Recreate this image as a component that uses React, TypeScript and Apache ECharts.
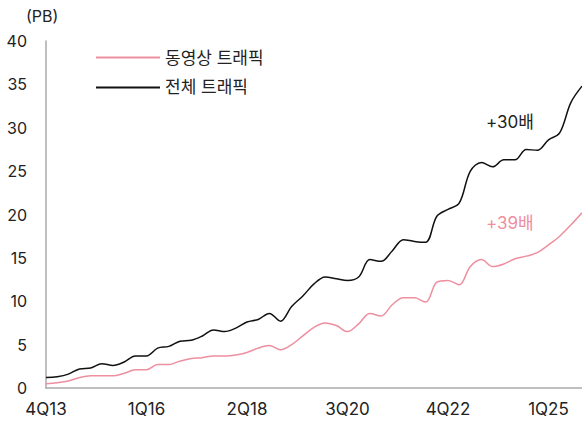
import React, { useEffect, useRef } from "react";
import * as echarts from "echarts";

const quarters: string[] = [];
(() => {
  let y = 13, q = 4;
  for (let i = 0; i < 49; i++) {
    quarters.push(`${q}Q${String(y).padStart(2, "0")}`);
    q++;
    if (q > 4) { q = 1; y++; }
  }
})();

const totalTraffic = [
  1.2, 1.3, 1.6, 2.2, 2.3, 2.8, 2.6, 3.0, 3.7, 3.7,
  4.6, 4.8, 5.4, 5.5, 6.0, 6.7, 6.5, 6.9, 7.6, 7.9,
  8.6, 7.7, 9.4, 10.6, 12.0, 12.8, 12.6, 12.4, 12.8, 14.8,
  14.6, 15.8, 17.1, 16.9, 16.8, 19.8, 20.6, 21.3, 25.0, 26.0,
  25.5, 26.3, 26.3, 27.5, 27.4, 28.6, 29.4, 32.9, 34.8,
];

const videoTraffic = [
  0.5, 0.6, 0.8, 1.2, 1.4, 1.4, 1.4, 1.7, 2.1, 2.1,
  2.7, 2.7, 3.1, 3.4, 3.5, 3.7, 3.7, 3.8, 4.1, 4.6,
  4.9, 4.4, 5.0, 6.0, 7.0, 7.5, 7.2, 6.5, 7.4, 8.6,
  8.3, 9.6, 10.4, 10.4, 9.9, 12.2, 12.4, 11.9, 14.0, 14.8,
  14.0, 14.3, 14.9, 15.2, 15.6, 16.5, 17.5, 18.8, 20.2,
];

const seriesNames = ["동영상 트래픽", "전체 트래픽"];
const annotations = ["+30배", "+39배"];

const FONT = "Inter, 'Noto Sans CJK KR', sans-serif";

export default function App() {
  const ref = useRef<HTMLDivElement>(null);
  useEffect(() => {
    if (!ref.current) return;
    const chart = echarts.init(ref.current, undefined, { renderer: "svg" });
    chart.setOption({
      animation: false,
      textStyle: { fontFamily: FONT },
      grid: { left: 46, right: 0, top: 41, bottom: 33 },
      legend: {
        left: 90,
        top: 44,
        orient: "vertical",
        itemWidth: 64,
        itemHeight: 20,
        itemGap: 13,
        itemStyle: { opacity: 0 },
        textStyle: { fontSize: 17, color: "#222", fontFamily: FONT },
        data: seriesNames,
      },
      xAxis: {
        type: "category",
        data: quarters,
        boundaryGap: false,
        axisLine: { lineStyle: { color: "#aaa", width: 1.5 } },
        axisTick: { show: false },
        axisLabel: { interval: 8, fontSize: 17, color: "#222", margin: 12, fontFamily: FONT },
      },
      yAxis: {
        type: "value",
        min: 0,
        max: 40,
        interval: 5,
        splitLine: { show: false },
        axisLine: { show: true, lineStyle: { color: "#aaa", width: 1.5 } },
        axisTick: { show: false },
        axisLabel: { fontSize: 16, color: "#222", margin: 19, fontFamily: FONT },
      },
      graphic: [
        { type: "text", left: 26, top: 8, style: { text: "(PB)", fontSize: 16, fill: "#222", fontFamily: FONT } },
        { type: "text", left: 486, top: 113, style: { text: annotations[0], fontSize: 17, fill: "#222", fontFamily: FONT } },
        { type: "text", left: 486, top: 214, style: { text: annotations[1], fontSize: 17, fill: "#ee8fa0", fontFamily: FONT } },
      ],
      series: [
        {
          name: seriesNames[0],
          type: "line",
          data: videoTraffic,
          symbol: "none",
          smooth: 0.35,
          lineStyle: { color: "#ee8fa0", width: 1.5 },
          itemStyle: { color: "#ee8fa0" },
        },
        {
          name: seriesNames[1],
          type: "line",
          data: totalTraffic,
          symbol: "none",
          smooth: 0.35,
          lineStyle: { color: "#111", width: 1.5 },
          itemStyle: { color: "#111" },
        },
      ],
    });
    return () => chart.dispose();
  }, []);
  return <div ref={ref} style={{ width: 582, height: 421, position: "absolute", left: 0, top: 0 }} />;
}
